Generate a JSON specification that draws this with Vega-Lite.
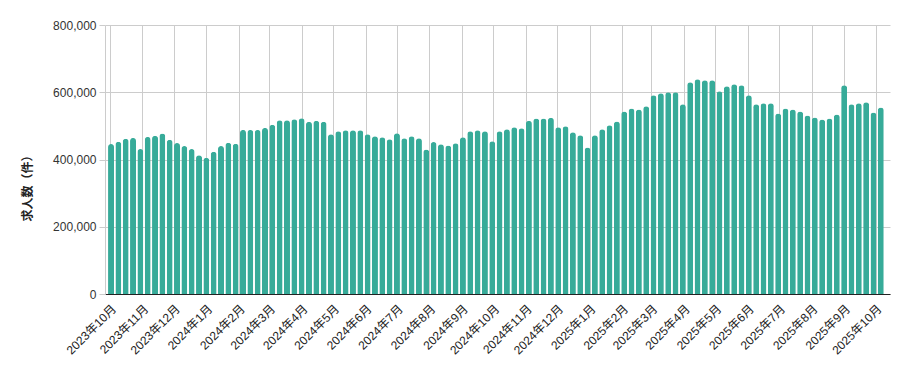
{
  "$schema": "https://vega.github.io/schema/vega-lite/v6.json",
  "autosize": "none",
  "width": 785,
  "height": 269,
  "padding": {"left": 105, "top": 25, "right": 19, "bottom": 77},
  "background": "#ffffff",
  "config": {
    "view": {"stroke": null},
    "font": "Liberation Sans, Noto Sans CJK JP, sans-serif",
    "axis": {"labelFont": "Liberation Sans, Noto Sans CJK JP, sans-serif", "titleFont": "Noto Sans CJK JP, sans-serif"}
  },
  "data": {
    "values": [
      {"date": "2023-10-02", "count": 446000},
      {"date": "2023-10-09", "count": 453000},
      {"date": "2023-10-16", "count": 462000},
      {"date": "2023-10-23", "count": 464000},
      {"date": "2023-10-30", "count": 431000},
      {"date": "2023-11-06", "count": 467000},
      {"date": "2023-11-13", "count": 471000},
      {"date": "2023-11-20", "count": 477000},
      {"date": "2023-11-27", "count": 459000},
      {"date": "2023-12-04", "count": 449000},
      {"date": "2023-12-11", "count": 440000},
      {"date": "2023-12-18", "count": 431000},
      {"date": "2023-12-25", "count": 413000},
      {"date": "2024-01-01", "count": 405000},
      {"date": "2024-01-08", "count": 423000},
      {"date": "2024-01-15", "count": 440000},
      {"date": "2024-01-22", "count": 450000},
      {"date": "2024-01-29", "count": 447000},
      {"date": "2024-02-05", "count": 488000},
      {"date": "2024-02-12", "count": 488000},
      {"date": "2024-02-19", "count": 488000},
      {"date": "2024-02-26", "count": 494000},
      {"date": "2024-03-04", "count": 503000},
      {"date": "2024-03-11", "count": 517000},
      {"date": "2024-03-18", "count": 517000},
      {"date": "2024-03-25", "count": 520000},
      {"date": "2024-04-01", "count": 523000},
      {"date": "2024-04-08", "count": 512000},
      {"date": "2024-04-15", "count": 515000},
      {"date": "2024-04-22", "count": 512000},
      {"date": "2024-04-29", "count": 475000},
      {"date": "2024-05-06", "count": 484000},
      {"date": "2024-05-13", "count": 487000},
      {"date": "2024-05-20", "count": 487000},
      {"date": "2024-05-27", "count": 487000},
      {"date": "2024-06-03", "count": 475000},
      {"date": "2024-06-10", "count": 469000},
      {"date": "2024-06-17", "count": 466000},
      {"date": "2024-06-24", "count": 460000},
      {"date": "2024-07-01", "count": 478000},
      {"date": "2024-07-08", "count": 463000},
      {"date": "2024-07-15", "count": 469000},
      {"date": "2024-07-22", "count": 463000},
      {"date": "2024-07-29", "count": 430000},
      {"date": "2024-08-05", "count": 452000},
      {"date": "2024-08-12", "count": 445000},
      {"date": "2024-08-19", "count": 442000},
      {"date": "2024-08-26", "count": 448000},
      {"date": "2024-09-02", "count": 466000},
      {"date": "2024-09-09", "count": 484000},
      {"date": "2024-09-16", "count": 487000},
      {"date": "2024-09-23", "count": 484000},
      {"date": "2024-09-30", "count": 454000},
      {"date": "2024-10-07", "count": 484000},
      {"date": "2024-10-14", "count": 490000},
      {"date": "2024-10-21", "count": 496000},
      {"date": "2024-10-28", "count": 493000},
      {"date": "2024-11-04", "count": 515000},
      {"date": "2024-11-11", "count": 522000},
      {"date": "2024-11-18", "count": 522000},
      {"date": "2024-11-25", "count": 524000},
      {"date": "2024-12-02", "count": 496000},
      {"date": "2024-12-09", "count": 499000},
      {"date": "2024-12-16", "count": 481000},
      {"date": "2024-12-23", "count": 472000},
      {"date": "2024-12-30", "count": 436000},
      {"date": "2025-01-06", "count": 472000},
      {"date": "2025-01-13", "count": 490000},
      {"date": "2025-01-20", "count": 502000},
      {"date": "2025-01-27", "count": 513000},
      {"date": "2025-02-03", "count": 543000},
      {"date": "2025-02-10", "count": 552000},
      {"date": "2025-02-17", "count": 549000},
      {"date": "2025-02-24", "count": 558000},
      {"date": "2025-03-03", "count": 591000},
      {"date": "2025-03-10", "count": 597000},
      {"date": "2025-03-17", "count": 600000},
      {"date": "2025-03-24", "count": 600000},
      {"date": "2025-03-31", "count": 564000},
      {"date": "2025-04-07", "count": 630000},
      {"date": "2025-04-14", "count": 639000},
      {"date": "2025-04-21", "count": 636000},
      {"date": "2025-04-28", "count": 636000},
      {"date": "2025-05-05", "count": 603000},
      {"date": "2025-05-12", "count": 618000},
      {"date": "2025-05-19", "count": 624000},
      {"date": "2025-05-26", "count": 621000},
      {"date": "2025-06-02", "count": 591000},
      {"date": "2025-06-09", "count": 564000},
      {"date": "2025-06-16", "count": 567000},
      {"date": "2025-06-23", "count": 567000},
      {"date": "2025-06-30", "count": 537000},
      {"date": "2025-07-07", "count": 552000},
      {"date": "2025-07-14", "count": 549000},
      {"date": "2025-07-21", "count": 543000},
      {"date": "2025-07-28", "count": 531000},
      {"date": "2025-08-04", "count": 525000},
      {"date": "2025-08-11", "count": 519000},
      {"date": "2025-08-18", "count": 522000},
      {"date": "2025-08-25", "count": 534000},
      {"date": "2025-09-01", "count": 621000},
      {"date": "2025-09-08", "count": 564000},
      {"date": "2025-09-15", "count": 567000},
      {"date": "2025-09-22", "count": 570000},
      {"date": "2025-09-29", "count": 540000},
      {"date": "2025-10-06", "count": 555000}
    ]
  },
  "mark": {"type": "bar", "size": 6, "color": "#37ab99", "cornerRadiusEnd": 3},
  "encoding": {
    "x": {
      "field": "date",
      "type": "temporal",
      "scale": {
        "type": "utc",
        "domain": [
          {"year": 2023, "month": 10, "date": 1, "utc": true},
          {"year": 2025, "month": 10, "date": 10, "utc": true}
        ]
      },
      "axis": {
        "title": null,
        "tickCount": {"interval": "month", "step": 1},
        "labelExpr": "utcFormat(datum.value, '%Y年%-m月')",
        "labelAngle": -45,
        "labelAlign": "right",
        "labelBaseline": "top",
        "labelFontSize": 12,
        "labelColor": "#222222",
        "labelPadding": 9,
        "labelOverlap": false,
        "labelBound": false,
        "labelFlush": false,
        "grid": true,
        "gridColor": "#cccccc",
        "gridWidth": 1,
        "ticks": false,
        "domain": true,
        "domainColor": "#222222",
        "domainWidth": 1
      }
    },
    "y": {
      "field": "count",
      "type": "quantitative",
      "scale": {"domain": [0, 800000], "nice": false},
      "axis": {
        "title": "求人数（件）",
        "titleFontSize": 12,
        "titleFontWeight": "bold",
        "titleColor": "#222222",
        "titlePadding": 18,
        "titleY": 160,
        "values": [0, 200000, 400000, 600000, 800000],
        "format": ",d",
        "labelFontSize": 12,
        "labelColor": "#333333",
        "labelPadding": 3,
        "grid": true,
        "gridColor": "#cccccc",
        "tickColor": "#cccccc",
        "tickSize": 6,
        "domain": true,
        "domainColor": "#cccccc"
      }
    }
  }
}
